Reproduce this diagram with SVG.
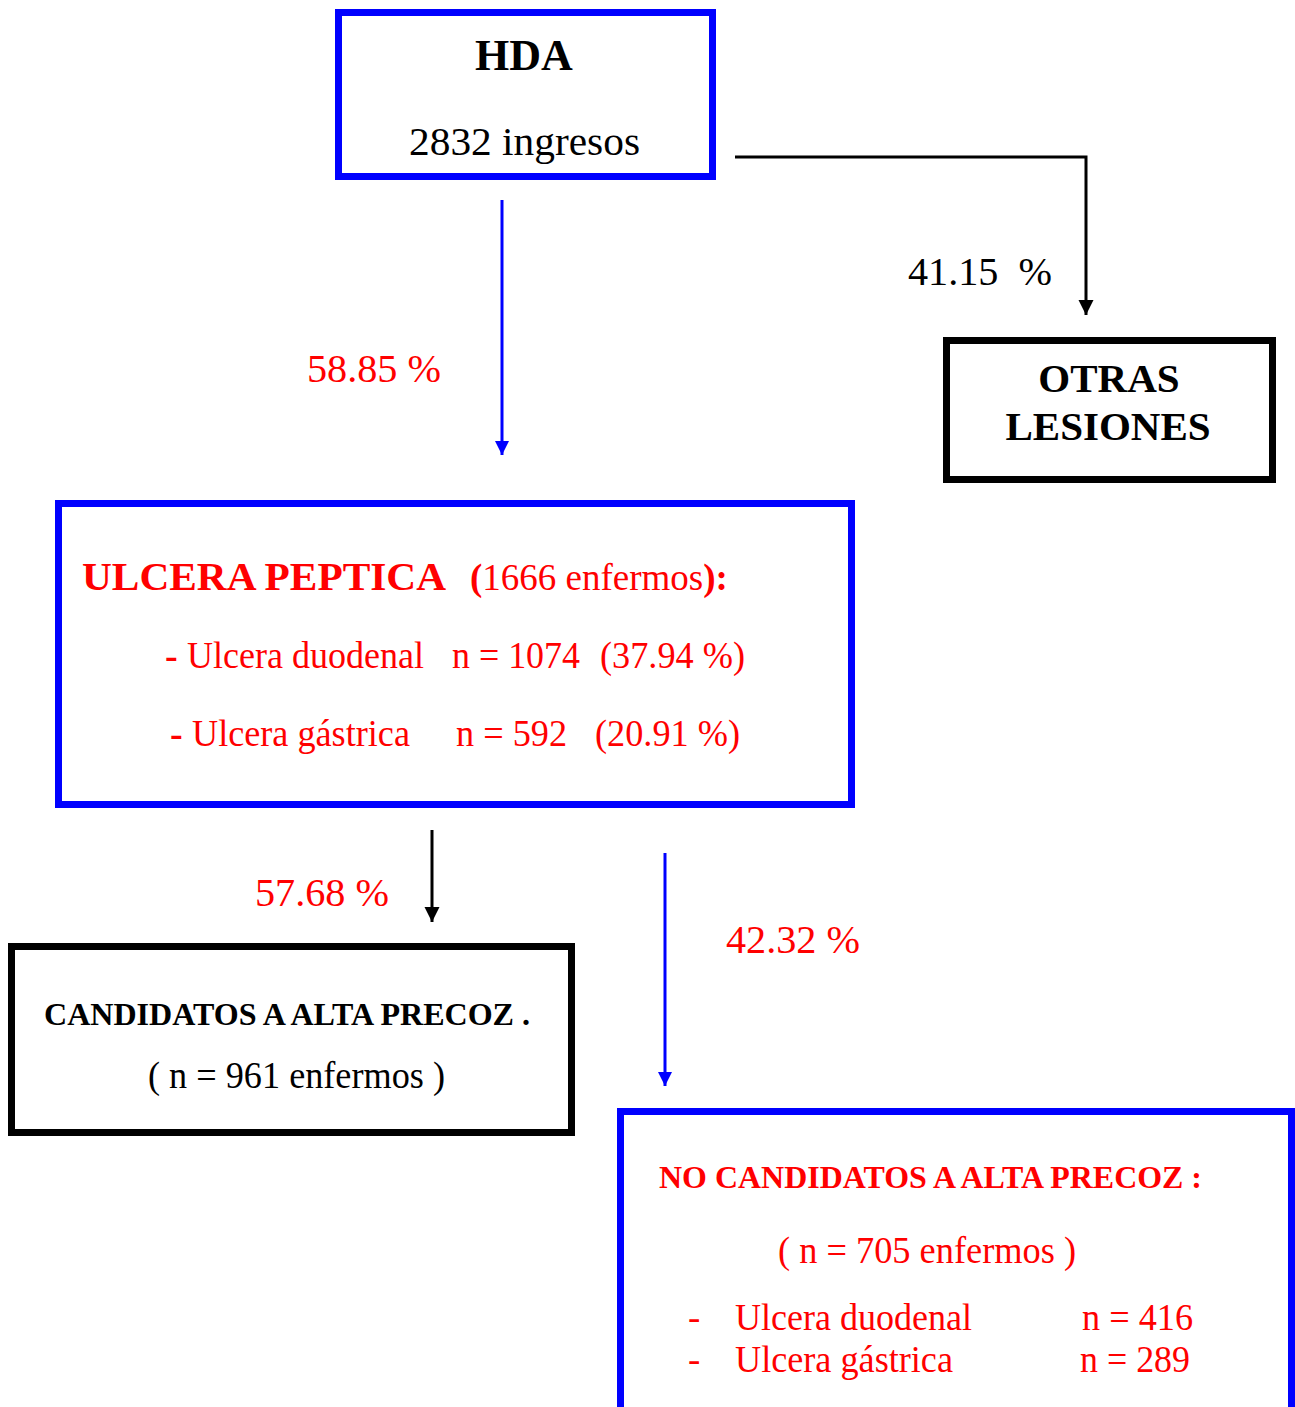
<svg xmlns="http://www.w3.org/2000/svg" width="1295" height="1407" viewBox="0 0 1295 1407">
<style>
text{font-family:"Liberation Serif","Times New Roman",serif;}
.b{font-weight:bold;}
.red{fill:#ff0000;}
.blk{fill:#000;}
.boxb{fill:#fff;stroke:#0000ff;stroke-width:7;}
.boxk{fill:#fff;stroke:#000;stroke-width:7;}
.cb{stroke:#0000ff;stroke-width:3;fill:none;}
.ck{stroke:#000;stroke-width:3;fill:none;}
</style>
<defs>
<marker id="ab" markerUnits="userSpaceOnUse" markerWidth="14" markerHeight="16" refX="14" refY="7" orient="auto">
<path d="M0,0 L14,7 L0,14 z" fill="#0000ff"/>
</marker>
<marker id="ak" markerUnits="userSpaceOnUse" markerWidth="16" markerHeight="16" refX="15" refY="7.5" orient="auto">
<path d="M0,0 L15,7.5 L0,15 z" fill="#000"/>
</marker>
</defs>
<rect width="1295" height="1407" fill="#fff"/>
<g id="connectors">
<line class="cb" x1="502" y1="200" x2="502" y2="455" marker-end="url(#ab)"/>
<path class="ck" d="M735,157 H1086 V315" marker-end="url(#ak)"/>
<line class="ck" x1="432" y1="830" x2="432" y2="922" marker-end="url(#ak)"/>
<line class="cb" x1="665" y1="853" x2="665" y2="1086" marker-end="url(#ab)"/>
<text class="red" x="307" y="382" font-size="40" textLength="134" lengthAdjust="spacingAndGlyphs">58.85 %</text>
<text class="blk" x="908" y="285" font-size="40" textLength="144" lengthAdjust="spacingAndGlyphs" xml:space="preserve">41.15  %</text>
<text class="red" x="255" y="906" font-size="40" textLength="134" lengthAdjust="spacingAndGlyphs">57.68 %</text>
<text class="red" x="726" y="953" font-size="40" textLength="134" lengthAdjust="spacingAndGlyphs">42.32 %</text>
</g>
<g id="hda">
<rect class="boxb" x="338.5" y="12.5" width="374" height="164"/>
<text class="blk b" x="524" y="70" font-size="44" text-anchor="middle">HDA</text>
<text class="blk" x="409" y="155" font-size="41" textLength="231" lengthAdjust="spacingAndGlyphs">2832 ingresos</text>
</g>
<g id="otras">
<rect class="boxk" x="946.5" y="340.5" width="326" height="139"/>
<text class="blk b" x="1109" y="392" font-size="41" text-anchor="middle">OTRAS</text>
<text class="blk b" x="1108" y="440" font-size="41" text-anchor="middle">LESIONES</text>
</g>
<g id="ulcera">
<rect class="boxb" x="58.5" y="503.5" width="793" height="301"/>
<text class="red b" x="82" y="590" font-size="40" textLength="364" lengthAdjust="spacingAndGlyphs">ULCERA PEPTICA</text>
<text class="red" x="470" y="590" font-size="37"><tspan class="b">(</tspan>1666 enfermos<tspan class="b">):</tspan></text>
<text class="red b" x="165" y="668" font-size="38">-</text>
<text class="red" x="187" y="668" font-size="38" textLength="237" lengthAdjust="spacingAndGlyphs">Ulcera duodenal</text>
<text class="red" x="452" y="668" font-size="38" textLength="128" lengthAdjust="spacingAndGlyphs">n = 1074</text>
<text class="red" x="600" y="668" font-size="38" textLength="145" lengthAdjust="spacingAndGlyphs">(37.94 %)</text>
<text class="red b" x="170" y="746" font-size="38">-</text>
<text class="red" x="192" y="746" font-size="38" textLength="218" lengthAdjust="spacingAndGlyphs">Ulcera gástrica</text>
<text class="red" x="456" y="746" font-size="38" textLength="111" lengthAdjust="spacingAndGlyphs">n = 592</text>
<text class="red" x="595" y="746" font-size="38" textLength="145" lengthAdjust="spacingAndGlyphs">(20.91 %)</text>
</g>
<g id="candidatos">
<rect class="boxk" x="11.5" y="946.5" width="560" height="186"/>
<text class="blk b" x="44" y="1025" font-size="32" textLength="486" lengthAdjust="spacingAndGlyphs">CANDIDATOS A ALTA PRECOZ .</text>
<text class="blk" x="148" y="1088" font-size="37" textLength="297" lengthAdjust="spacingAndGlyphs">( n = 961 enfermos )</text>
</g>
<g id="nocandidatos">
<rect class="boxb" x="620.5" y="1111.5" width="671" height="320"/>
<text class="red b" x="659" y="1188" font-size="32" textLength="543" lengthAdjust="spacingAndGlyphs">NO CANDIDATOS A ALTA PRECOZ :</text>
<text class="red" x="778" y="1263" font-size="37" textLength="298" lengthAdjust="spacingAndGlyphs">( n = 705 enfermos )</text>
<text class="red" x="688" y="1330" font-size="37">-</text>
<text class="red" x="735" y="1330" font-size="37" textLength="237" lengthAdjust="spacingAndGlyphs">Ulcera duodenal</text>
<text class="red" x="1082" y="1330" font-size="37" textLength="111" lengthAdjust="spacingAndGlyphs">n = 416</text>
<text class="red" x="688" y="1372" font-size="37">-</text>
<text class="red" x="735" y="1372" font-size="37" textLength="218" lengthAdjust="spacingAndGlyphs">Ulcera gástrica</text>
<text class="red" x="1080" y="1372" font-size="37" textLength="110" lengthAdjust="spacingAndGlyphs">n = 289</text>
</g>
</svg>
